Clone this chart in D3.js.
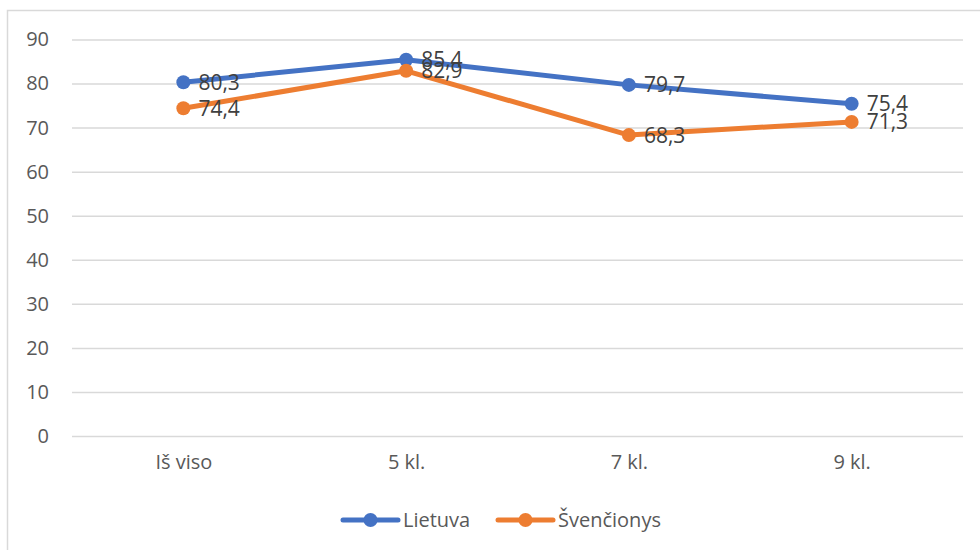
<!DOCTYPE html>
<html>
<head>
<meta charset="utf-8">
<script src="https://cdn.jsdelivr.net/npm/d3@7"></script>
<style>
  html, body { margin: 0; padding: 0; background: #fff; }
  svg { display: block; font-family: "Open Sans", "Noto Sans", sans-serif; }
</style>
</head>
<body>
<svg id="chart" width="980" height="550"></svg>
<script>
// Categories and series
const categories = ["Iš viso", "5 kl.", "7 kl.", "9 kl."];
const lietuva = [80.3, 85.4, 79.7, 75.4];
const svencionys = [74.4, 82.9, 68.3, 71.3];
const seriesNames = ["Lietuva", "Švenčionys"];
const seriesColors = ["#4472C4", "#ED7D31"];
const yTicks = [0, 10, 20, 30, 40, 50, 60, 70, 80, 90];

const series = [
  { name: seriesNames[0], color: seriesColors[0], values: lietuva },
  { name: seriesNames[1], color: seriesColors[1], values: svencionys }
];

const svg = d3.select("#chart");
const W = 980, H = 550;
const plot = { left: 72, right: 963, top: 39.5, bottom: 436 };

// Chart frame
svg.append("rect")
  .attr("x", 7.5).attr("y", 10.5)
  .attr("width", W + 10).attr("height", H + 10)
  .attr("fill", "#fff").attr("stroke", "#d9d9d9").attr("stroke-width", 1.5);

const x = d3.scalePoint().domain(categories).range([plot.left, plot.right]).padding(0.5);
const y = d3.scaleLinear().domain([0, 90]).range([plot.bottom, plot.top]);

// Gridlines + y labels
const yAxis = d3.axisLeft(y).tickValues(yTicks).tickSize(-(plot.right - plot.left)).tickPadding(23);
const gy = svg.append("g").attr("transform", `translate(${plot.left},0)`).call(yAxis);
gy.select(".domain").remove();
gy.selectAll(".tick line").attr("stroke", "#d9d9d9").attr("stroke-width", 1.5);
gy.selectAll(".tick text").attr("fill", "#595959").style("font-size", "20px")
  .style("font-family", "\"Open Sans\", sans-serif");

// Category labels
const xAxis = d3.axisBottom(x).tickSize(0).tickPadding(19);
const gx = svg.append("g").attr("transform", `translate(0,${plot.bottom})`).call(xAxis);
gx.select(".domain").remove();
gx.selectAll(".tick text").attr("fill", "#595959").style("font-size", "20px")
  .style("font-family", "\"Open Sans\", sans-serif");

// Lines and markers
const line = d3.line().x((d, i) => x(categories[i])).y(d => y(d));
series.forEach(s => {
  svg.append("path").datum(s.values)
    .attr("d", line).attr("fill", "none")
    .attr("stroke", s.color).attr("stroke-width", 5)
    .attr("stroke-linejoin", "round").attr("stroke-linecap", "round");
  svg.append("g").selectAll("circle").data(s.values).join("circle")
    .attr("cx", (d, i) => x(categories[i])).attr("cy", d => y(d))
    .attr("r", 7).attr("fill", s.color);
});

// Value labels
series.forEach(s => {
  svg.append("g").selectAll("text").data(s.values).join("text")
    .attr("x", (d, i) => x(categories[i]) + 15)
    .attr("y", d => y(d))
    .attr("dy", "0.36em")
    .attr("fill", "#404040")
    .style("font-size", "21px")
    .text(d => d.toFixed(1).replace(".", ","));
});

// Legend
const legend = svg.append("g").attr("transform", "translate(0,520)");
const legendItems = [
  { x0: 343, s: series[0] },
  { x0: 498, s: series[1] }
];
legendItems.forEach(li => {
  legend.append("line").attr("x1", li.x0).attr("x2", li.x0 + 55)
    .attr("y1", 0).attr("y2", 0)
    .attr("stroke", li.s.color).attr("stroke-width", 5).attr("stroke-linecap", "round");
  legend.append("circle").attr("cx", li.x0 + 27.5).attr("cy", 0).attr("r", 7).attr("fill", li.s.color);
  legend.append("text").attr("x", li.x0 + 60).attr("y", 0).attr("dy", "0.36em")
    .attr("fill", "#595959").style("font-size", "20px").text(li.s.name);
});
</script>
</body>
</html>
